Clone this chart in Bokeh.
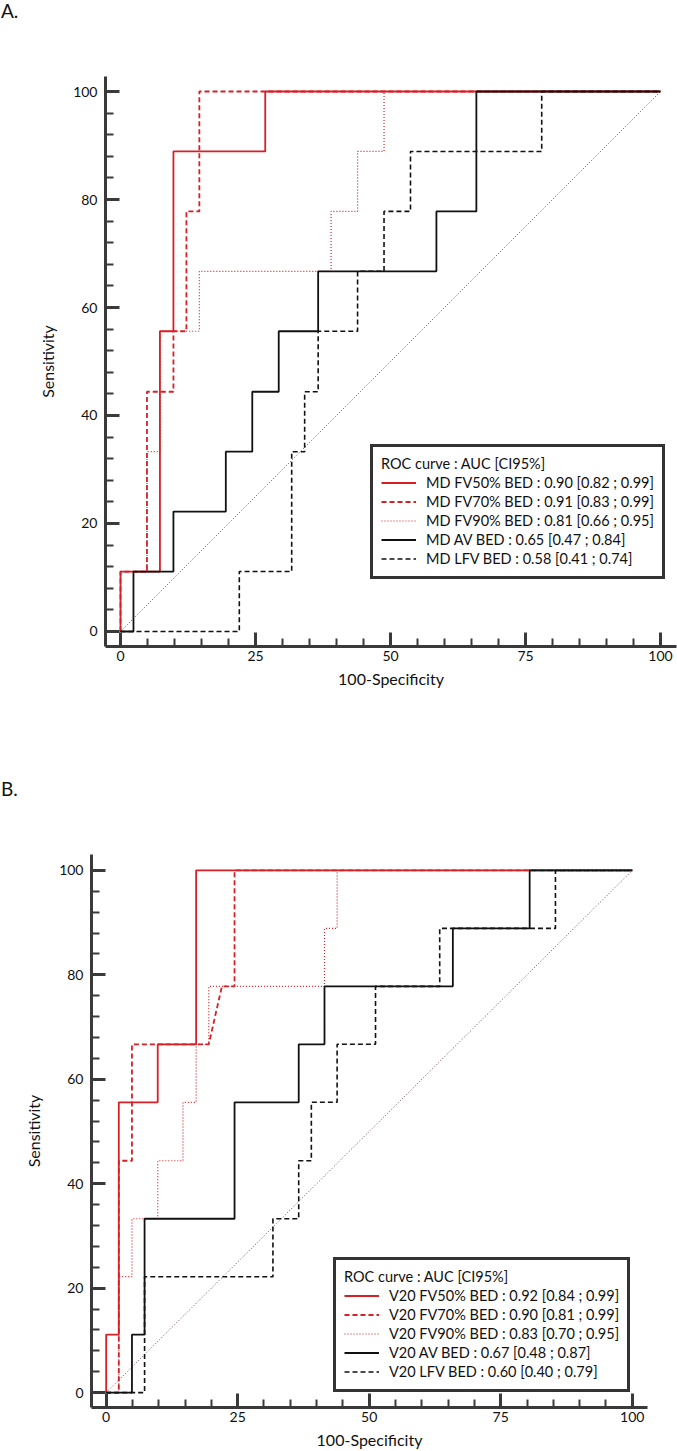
from bokeh.plotting import figure
from bokeh.models import Legend, LegendItem, SingleIntervalTicker, Range1d, Div
from bokeh.layouts import column
from bokeh.embed import file_html
from bokeh.resources import INLINE

# ---- Panel A: mean dose (MD) metrics, ROC step curves in % ----
a_fv50_x = [0, 0, 7.3, 7.3, 9.8, 9.8, 26.8, 26.8, 100]
a_fv50_y = [0, 11.1, 11.1, 55.6, 55.6, 88.9, 88.9, 100, 100]

a_fv70_x = [0, 0, 4.9, 4.9, 9.8, 9.8, 12.2, 12.2, 14.6, 14.6, 100]
a_fv70_y = [0, 11.1, 11.1, 44.4, 44.4, 55.6, 55.6, 77.8, 77.8, 100, 100]

a_fv90_x = [0, 0, 4.9, 4.9, 7.3, 7.3, 14.6, 14.6, 39.0, 39.0, 43.9, 43.9, 48.8, 48.8, 100]
a_fv90_y = [0, 11.1, 11.1, 33.3, 33.3, 55.6, 55.6, 66.7, 66.7, 77.8, 77.8, 88.9, 88.9, 100, 100]

a_av_x = [0, 2.4, 2.4, 9.8, 9.8, 19.5, 19.5, 24.4, 24.4, 29.3, 29.3, 36.6, 36.6, 58.5, 58.5, 65.9, 65.9, 100]
a_av_y = [0, 0, 11.1, 11.1, 22.2, 22.2, 33.3, 33.3, 44.4, 44.4, 55.6, 55.6, 66.7, 66.7, 77.8, 77.8, 100, 100]

a_lfv_x = [0, 22.0, 22.0, 31.7, 31.7, 34.1, 34.1, 36.6, 36.6, 43.9, 43.9, 48.8, 48.8, 53.7, 53.7, 78.0, 78.0, 100]
a_lfv_y = [0, 0, 11.1, 11.1, 33.3, 33.3, 44.4, 44.4, 55.6, 55.6, 66.7, 66.7, 77.8, 77.8, 88.9, 88.9, 100, 100]

a_labels = [
    "MD FV50% BED : 0.90 [0.82 ; 0.99]",
    "MD FV70% BED : 0.91 [0.83 ; 0.99]",
    "MD FV90% BED : 0.81 [0.66 ; 0.95]",
    "MD AV BED : 0.65 [0.47 ; 0.84]",
    "MD LFV BED : 0.58 [0.41 ; 0.74]",
]

# ---- Panel B: V20 metrics ----
b_fv50_x = [0, 0, 2.4, 2.4, 9.8, 9.8, 17.1, 17.1, 100]
b_fv50_y = [0, 11.1, 11.1, 55.6, 55.6, 66.7, 66.7, 100, 100]

b_fv70_x = [0, 2.4, 2.4, 4.9, 4.9, 19.5, 22.0, 24.4, 24.4, 100]
b_fv70_y = [0, 0, 44.4, 44.4, 66.7, 66.7, 77.8, 77.8, 100, 100]

b_fv90_x = [0, 2.4, 2.4, 4.9, 4.9, 9.8, 9.8, 14.6, 14.6, 17.1, 17.1, 19.5, 19.5, 41.5, 41.5, 43.9, 43.9, 100]
b_fv90_y = [0, 0, 22.2, 22.2, 33.3, 33.3, 44.4, 44.4, 55.6, 55.6, 66.7, 66.7, 77.8, 77.8, 88.9, 88.9, 100, 100]

b_av_x = [0, 4.9, 4.9, 7.3, 7.3, 24.4, 24.4, 36.6, 36.6, 41.5, 41.5, 65.9, 65.9, 80.5, 80.5, 100]
b_av_y = [0, 0, 11.1, 11.1, 33.3, 33.3, 55.6, 55.6, 66.7, 66.7, 77.8, 77.8, 88.9, 88.9, 100, 100]

b_lfv_x = [0, 7.3, 7.3, 31.7, 31.7, 36.6, 36.6, 39.0, 39.0, 43.9, 43.9, 51.2, 51.2, 63.4, 63.4, 85.4, 85.4, 100]
b_lfv_y = [0, 0, 22.2, 22.2, 33.3, 33.3, 44.4, 44.4, 55.6, 55.6, 66.7, 66.7, 77.8, 77.8, 88.9, 88.9, 100, 100]

b_labels = [
    "V20 FV50% BED : 0.92 [0.84 ; 0.99]",
    "V20 FV70% BED : 0.90 [0.81 ; 0.99]",
    "V20 FV90% BED : 0.83 [0.70 ; 0.95]",
    "V20 AV BED : 0.67 [0.48 ; 0.87]",
    "V20 LFV BED : 0.60 [0.40 ; 0.79]",
]

diag = [0, 100]

FONT = "Lato"
RED = "#d71f26"
BLACK = "#111111"
AXIS = "#3a3a3a"
TEXT = "#111111"

# line style per curve: (colour, width, dash)
STYLES = [
    (RED, 1.8, "solid"),
    (RED, 1.8, "5 3"),
    (RED, 1.2, "1 2"),
    (BLACK, 1.8, "solid"),
    (BLACK, 1.6, "5 3"),
]


def panel_letter(text):
    return Div(text=text, width=677, height=22, margin=(0, 0, 0, 0),
               styles={"font-family": FONT, "font-size": "19px", "line-height": "22px",
                       "color": TEXT, "padding-left": "1px", "margin": "0"})


def roc_panel(curves, labels, w, h, borders, xr, yr, legend_loc):
    left, right, top, bottom = borders
    p = figure(width=w, height=h, output_backend="svg", toolbar_location=None,
               x_range=Range1d(*xr), y_range=Range1d(*yr),
               min_border_left=left, min_border_right=right,
               min_border_top=top, min_border_bottom=bottom,
               background_fill_color="white", border_fill_color="white",
               margin=(0, 0, 0, 0))
    # each panel keeps its own frame geometry inside the column
    try:
        p.frame_align = False
    except Exception:
        pass
    p.outline_line_color = None
    p.grid.visible = False

    p.line(diag, diag, line_color="#6e4a4a", line_width=1, line_dash="1 2")

    renderers = []
    # red curves first, black curves drawn over them
    for (xs, ys), (col, lw, dash) in zip(curves, STYLES):
        r = p.line(xs, ys, line_color=col, line_width=lw, line_dash=dash)
        renderers.append(r)

    items = [LegendItem(label=lab, renderers=[r]) for lab, r in zip(labels, renderers)]
    leg = Legend(items=items, location=legend_loc, margin=0, padding=8,
                 title="ROC curve : AUC [CI95%]", title_text_font=FONT,
                 title_text_font_size="14.5px", title_text_font_style="normal",
                 title_text_color=TEXT, title_standoff=1,
                 label_text_font=FONT, label_text_font_size="14.5px",
                 label_text_color=TEXT,
                 label_height=19, glyph_height=19, glyph_width=35,
                 label_standoff=10, spacing=0,
                 border_line_color="#333333", border_line_width=3, border_line_alpha=1,
                 background_fill_color="white", background_fill_alpha=1)
    p.add_layout(leg, "center")

    for ax, interval in ((p.xaxis, 25), (p.yaxis, 20)):
        ax.ticker = SingleIntervalTicker(interval=interval, num_minor_ticks=5)
        ax.axis_line_width = 3
        ax.axis_line_color = AXIS
        ax.major_tick_line_width = 3
        ax.major_tick_line_color = AXIS
        ax.minor_tick_line_width = 2
        ax.minor_tick_line_color = AXIS
        ax.major_tick_in = 14
        ax.major_tick_out = 0
        ax.minor_tick_in = 8
        ax.minor_tick_out = 0
        ax.major_label_text_font = FONT
        ax.major_label_text_font_size = "14px"
        ax.major_label_text_color = TEXT
        ax.axis_label_text_font = FONT
        ax.axis_label_text_font_size = "16px"
        ax.axis_label_text_font_style = "normal"
        ax.axis_label_text_color = TEXT

    p.xaxis.axis_label = "100-Specificity"
    p.yaxis.axis_label = "Sensitivity"
    p.xaxis.major_label_standoff = 4
    p.xaxis.axis_label_standoff = 5
    p.yaxis.major_label_standoff = 8
    p.yaxis.axis_label_standoff = 13
    return p


pa = roc_panel(
    [(a_fv50_x, a_fv50_y), (a_fv70_x, a_fv70_y), (a_fv90_x, a_fv90_y),
     (a_av_x, a_av_y), (a_lfv_x, a_lfv_y)],
    a_labels, 677, 756, (105, 1, 54, 132),
    (-2.78, 102.96), (-2.78, 102.78), (265, 67))

pb = roc_panel(
    [(b_fv50_x, b_fv50_y), (b_fv70_x, b_fv70_y), (b_fv90_x, b_fv90_y),
     (b_av_x, b_av_y), (b_lfv_x, b_lfv_y)],
    b_labels, 677, 651, (91, 30, 54, 43),
    (-2.79, 102.9), (-2.85, 103.05), (242, 15))

layout = column(panel_letter("A."), pa, panel_letter("B."), pb, spacing=0)
open("out.html", "w").write(file_html(layout, INLINE))
